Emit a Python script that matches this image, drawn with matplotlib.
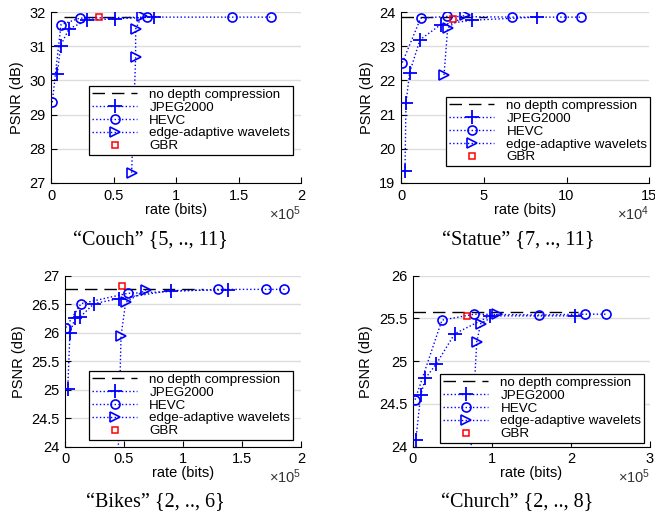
import numpy as np
import matplotlib
matplotlib.use('Agg')
import matplotlib.pyplot as plt
from matplotlib.ticker import FuncFormatter

plt.rcParams['font.family'] = 'Liberation Sans'
plt.rcParams['mathtext.fontset'] = 'custom'
plt.rcParams['mathtext.rm'] = 'Liberation Sans'
plt.rcParams['mathtext.it'] = 'Liberation Sans:italic'

# ---- data (rate in bits, PSNR in dB) ----
# Couch
couch_ref_x = [10000, 64000]
couch_ref_y = 31.86
couch_jpeg_x = [5100, 7700, 14400, 29000, 51000, 82000]
couch_jpeg_y = [30.19, 31.02, 31.51, 31.76, 31.80, 31.85]
couch_hevc_x = [1000, 8000, 23000, 77000, 145000, 176000]
couch_hevc_y = [29.36, 31.63, 31.82, 31.85, 31.85, 31.85]
couch_ea_x = [64500, 67700, 67700, 72500]
couch_ea_y = [27.30, 30.68, 31.50, 31.87]
couch_gbr_x = [38700]
couch_gbr_y = [31.85]

# Statue
statue_ref_x = [0, 52000]
statue_ref_y = 23.85
statue_jpeg_x = [2400, 3000, 5200, 11500, 24000, 42700, 82000]
statue_jpeg_y = [19.34, 21.33, 22.23, 23.19, 23.63, 23.76, 23.85]
statue_hevc_x = [800, 11900, 28000, 66800, 96400, 109000]
statue_hevc_y = [22.52, 23.82, 23.87, 23.85, 23.85, 23.85]
statue_ea_x = [26000, 28200, 38600]
statue_ea_y = [22.16, 23.53, 23.92]
statue_gbr_x = [31400]
statue_gbr_y = [23.80]

# Bikes
bikes_ref_x = [0, 117000]
bikes_ref_y = 26.76
bikes_jpeg_x = [2300, 4200, 8500, 13000, 24600, 46000, 90000, 138000]
bikes_jpeg_y = [25.01, 26.00, 26.25, 26.28, 26.51, 26.60, 26.74, 26.75]
bikes_hevc_x = [600, 13600, 53000, 130000, 170000, 186000]
bikes_hevc_y = [26.09, 26.51, 26.69, 26.76, 26.76, 26.76]
bikes_ea_x = [44000, 47500, 51400, 68400]
bikes_ea_y = [23.00, 25.94, 26.53, 26.75]
bikes_gbr_x = [48000]
bikes_gbr_y = [26.82]

# Church
church_ref_x = [0, 209000]
church_ref_y = 25.57
church_jpeg_x = [4000, 10000, 16000, 30000, 53000, 98000, 205000]
church_jpeg_y = [24.08, 24.60, 24.80, 24.97, 25.32, 25.53, 25.53]
church_hevc_x = [3000, 37000, 78000, 160000, 218000, 244000]
church_hevc_y = [24.55, 25.48, 25.55, 25.54, 25.55, 25.55]
church_ea_x = [68000, 81000, 86000, 107000]
church_ea_y = [23.00, 25.23, 25.44, 25.55]
church_gbr_x = [69000]
church_gbr_y = [25.53]

panels = [
    dict(name='Couch', rng='{5, .., 11}', scale=1e5, exp=5,
         xlim=(0, 2e5), xticks=[0, 0.5e5, 1e5, 1.5e5, 2e5],
         ylim=(27, 32), yticks=[27, 28, 29, 30, 31, 32],
         ref_x=couch_ref_x, ref_y=couch_ref_y,
         jx=couch_jpeg_x, jy=couch_jpeg_y, hx=couch_hevc_x, hy=couch_hevc_y,
         ex=couch_ea_x, ey=couch_ea_y, gx=couch_gbr_x, gy=couch_gbr_y,
         pos=[51, 12, 301, 183], leg=(0.968, 0.164), cap=(150, 241)),
    dict(name='Statue', rng='{7, .., 11}', scale=1e4, exp=4,
         xlim=(0, 15e4), xticks=[0, 5e4, 10e4, 15e4],
         ylim=(19, 24), yticks=[19, 20, 21, 22, 23, 24],
         ref_x=statue_ref_x, ref_y=statue_ref_y,
         jx=statue_jpeg_x, jy=statue_jpeg_y, hx=statue_hevc_x, hy=statue_hevc_y,
         ex=statue_ea_x, ey=statue_ea_y, gx=statue_gbr_x, gy=statue_gbr_y,
         pos=[401, 12, 649.3, 183], leg=(1.003, 0.099), cap=(518, 241)),
    dict(name='Bikes', rng='{2, .., 6}', scale=1e5, exp=5,
         xlim=(0, 2e5), xticks=[0, 0.5e5, 1e5, 1.5e5, 2e5],
         ylim=(24, 27), yticks=[24, 24.5, 25, 25.5, 26, 26.5, 27],
         ref_x=bikes_ref_x, ref_y=bikes_ref_y,
         jx=bikes_jpeg_x, jy=bikes_jpeg_y, hx=bikes_hevc_x, hy=bikes_hevc_y,
         ex=bikes_ea_x, ey=bikes_ea_y, gx=bikes_gbr_x, gy=bikes_gbr_y,
         pos=[65, 275.7, 301, 446.7], leg=(0.966, 0.039), cap=(155, 503)),
    dict(name='Church', rng='{2, .., 8}', scale=1e5, exp=5,
         xlim=(0, 3e5), xticks=[0, 1e5, 2e5, 3e5],
         ylim=(24, 26), yticks=[24, 24.5, 25, 25.5, 26],
         ref_x=church_ref_x, ref_y=church_ref_y,
         jx=church_jpeg_x, jy=church_jpeg_y, hx=church_hevc_x, hy=church_hevc_y,
         ex=church_ea_x, ey=church_ea_y, gx=church_gbr_x, gy=church_gbr_y,
         pos=[412.7, 275.7, 650, 446.7], leg=(0.975, 0.022), cap=(517, 503)),
]

W, H = 655, 525
fig = plt.figure(figsize=(W / 100, H / 100), dpi=100)
blue = '#0000ff'

for p in panels:
    x0, y0, x1, y1 = p['pos']
    ax = fig.add_axes([x0 / W, 1 - y1 / H, (x1 - x0) / W, (y1 - y0) / H])
    ax.plot(p['ref_x'], [p['ref_y']] * 2, color='black', lw=1.0,
            dashes=(9, 5), label='no depth compression', zorder=3)
    ax.plot(p['jx'], p['jy'], ':', color=blue, lw=1.0, marker='+', ms=10,
            mew=1.3, label='JPEG2000', zorder=4)
    ax.plot(p['hx'], p['hy'], ':', color=blue, lw=1.0, marker='o', ms=6.5,
            mfc='none', mew=1.2, label='HEVC', zorder=4)
    ax.plot(p['ex'], p['ey'], ':', color=blue, lw=1.0, marker='>', ms=7.5,
            mfc='none', mew=1.2, label='edge-adaptive wavelets', zorder=4)
    ax.plot(p['gx'], p['gy'], ls='none', color='red', marker='s', ms=5,
            mfc='none', mew=1.1, label='GBR', zorder=5)

    ax.set_xlim(p['xlim'])
    ax.set_ylim(p['ylim'])
    ax.set_xticks(p['xticks'])
    ax.set_yticks(p['yticks'])
    sc = p['scale']
    ax.xaxis.set_major_formatter(FuncFormatter(lambda v, pos, sc=sc: '%g' % (v / sc)))
    ax.yaxis.set_major_formatter(FuncFormatter(lambda v, pos: '%g' % v))
    ax.tick_params(direction='in', length=4, labelsize=10.5, width=0.8, pad=4)
    ax.yaxis.grid(True, color='#dddddd', lw=1.0)
    ax.set_axisbelow(True)
    for s in ['top', 'right']:
        ax.spines[s].set_visible(False)
    for s in ['left', 'bottom']:
        ax.spines[s].set_linewidth(0.8)
    ax.set_ylabel('PSNR (dB)', fontsize=10.5, labelpad=4)
    ax.set_xlabel('rate (bits)', fontsize=10.5, labelpad=0)
    # exponent label of the x axis
    ax.text(1.0, -0.215, r'$\times 10^{%d}$' % p['exp'], transform=ax.transAxes,
            ha='right', va='baseline', fontsize=10.5, color='#333333')

    leg = ax.legend(loc='lower right', bbox_to_anchor=p['leg'], fontsize=9.6,
                    handlelength=3.4, numpoints=1, fancybox=False,
                    borderaxespad=0, borderpad=0.2, labelspacing=0.04,
                    handletextpad=0.9, framealpha=1)
    leg.get_frame().set_edgecolor('black')
    leg.get_frame().set_linewidth(0.9)

    cx, cy = p['cap']
    fig.text(cx / W, 1 - cy / H, '\u201c%s\u201d %s' % (p['name'], p['rng']),
             ha='center', va='center', fontsize=14.5, family='Liberation Serif')

fig.savefig('out.png', dpi=100)
